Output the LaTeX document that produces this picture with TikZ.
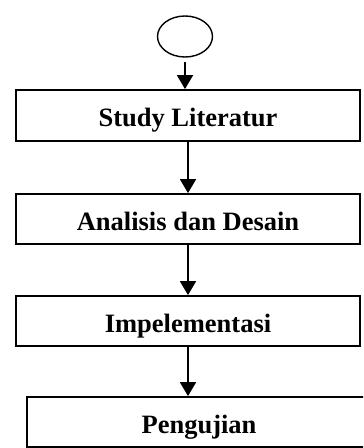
\documentclass[tikz,border=0pt]{standalone}
\usepackage{fontspec}
\setmainfont{Liberation Serif}
\usetikzlibrary{arrows.meta,shapes.geometric}
\begin{document}
\begin{tikzpicture}[x=1bp,y=-1bp,
  stepbox/.style={draw=black,line width=1.8bp,rectangle,inner sep=0pt,
    text height=23bp,text depth=0pt,
    font=\fontsize{26.5bp}{30bp}\selectfont\bfseries},
  flow/.style={draw=black,line width=1.8bp,
    -{Triangle[length=14bp,width=16bp]}}]
\useasboundingbox (0,0) rectangle (363,448);
\clip (0,0) rectangle (363,448);
% start terminator
\node[draw=black,line width=1.4bp,ellipse,minimum width=55bp,minimum height=41bp,inner sep=0pt] (start) at (185,36.5) {};
% process steps
\node[stepbox,minimum width=344bp,minimum height=51bp] (s1) at (188,115.5) {Study Literatur};
\node[stepbox,minimum width=344bp,minimum height=50bp] (s2) at (188,219) {Analisis dan Desain};
\node[stepbox,minimum width=344bp,minimum height=50bp] (s3) at (188,321) {Impelementasi};
\node[stepbox,minimum width=344bp,minimum height=50bp] (s4) at (199,422) {Pengujian};
% connectors
\coordinate (a0) at (185,62);
\draw[flow] (a0) -- (a0 |- s1.north);
\draw[flow] (s1.south) -- (s2.north);
\draw[flow] (s2.south) -- (s3.north);
\draw[flow] (s3.south) -- (s3.south |- s4.north);
\end{tikzpicture}
\end{document}
